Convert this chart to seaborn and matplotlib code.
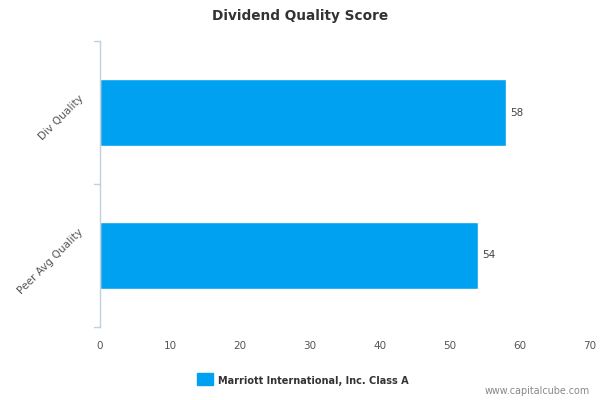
import matplotlib
matplotlib.use('Agg')
import matplotlib.pyplot as plt
import matplotlib.transforms as mtrans
import seaborn as sns
import pandas as pd

categories = ['Div Quality', 'Peer Avg Quality']
scores = [58, 54]
series_name = 'Marriott International, Inc. Class A'
x_ticks = [0, 10, 20, 30, 40, 50, 60, 70]

df = pd.DataFrame({'category': categories, 'score': scores, 'series': series_name})

sns.set_style('white')
plt.rcParams['font.family'] = ['DejaVu Sans']

fig = plt.figure(figsize=(6, 4), dpi=100)
ax = fig.add_axes([0.1667, 0.1825, 0.8166, 0.715])

bar_color = '#00A1F1'
sns.barplot(data=df, y='category', x='score', hue='series', palette=[bar_color],
            orient='h', width=0.475, saturation=1, ax=ax, legend=False)

# Value labels
for container in ax.containers:
    ax.bar_label(container, labels=[str(v) for v in scores], padding=3,
                 fontsize=7.5, color='#444444')

ax.set_xlim(0, 70)
ax.set_xticks(x_ticks)
ax.set_xticklabels([str(t) for t in x_ticks], fontsize=7.5, color='#555555')
ax.set_yticks([0, 1])
ax.set_yticklabels([])
ax.set_ylim(1.5, -0.5)
ax.set_xlabel('')
ax.set_ylabel('')

# rotated category labels, sitting slightly below the bar centre
shift = mtrans.ScaledTranslation(0, -4 / 72, fig.dpi_scale_trans)
for i, cat in enumerate(categories):
    ax.text(-0.03, i, cat, transform=ax.get_yaxis_transform() + shift,
            rotation=45, ha='right', va='center', fontsize=7.6, color='#555555')

# Axis styling: only a light left spine with category dividers
for side in ['top', 'right', 'bottom']:
    ax.spines[side].set_visible(False)
ax.spines['left'].set_color('#C0D0E0')
ax.spines['left'].set_linewidth(1)
ax.tick_params(axis='x', length=0, pad=10)
ax.tick_params(axis='y', length=0)
for yb in [-0.5, 0.5, 1.5]:
    ax.plot([-0.012, 0], [yb, yb], transform=ax.get_yaxis_transform(),
            color='#C0D0E0', lw=1, clip_on=False)
ax.grid(False)

fig.text(0.5, 0.96, 'Dividend Quality Score', ha='center', va='center',
         fontsize=9.8, fontweight='bold', color='#333333')

# Legend
fig.patches.append(plt.Rectangle((0.328, 0.0365), 0.027, 0.03, transform=fig.transFigure,
                                 color=bar_color, figure=fig))
fig.text(0.363, 0.0475, series_name, ha='left', va='center', fontsize=7,
         fontweight='bold', color='#333333')
fig.text(0.983, 0.022, 'www.capitalcube.com', ha='right', va='center',
         fontsize=6.9, color='#888888')

fig.savefig('out.png', dpi=100)
